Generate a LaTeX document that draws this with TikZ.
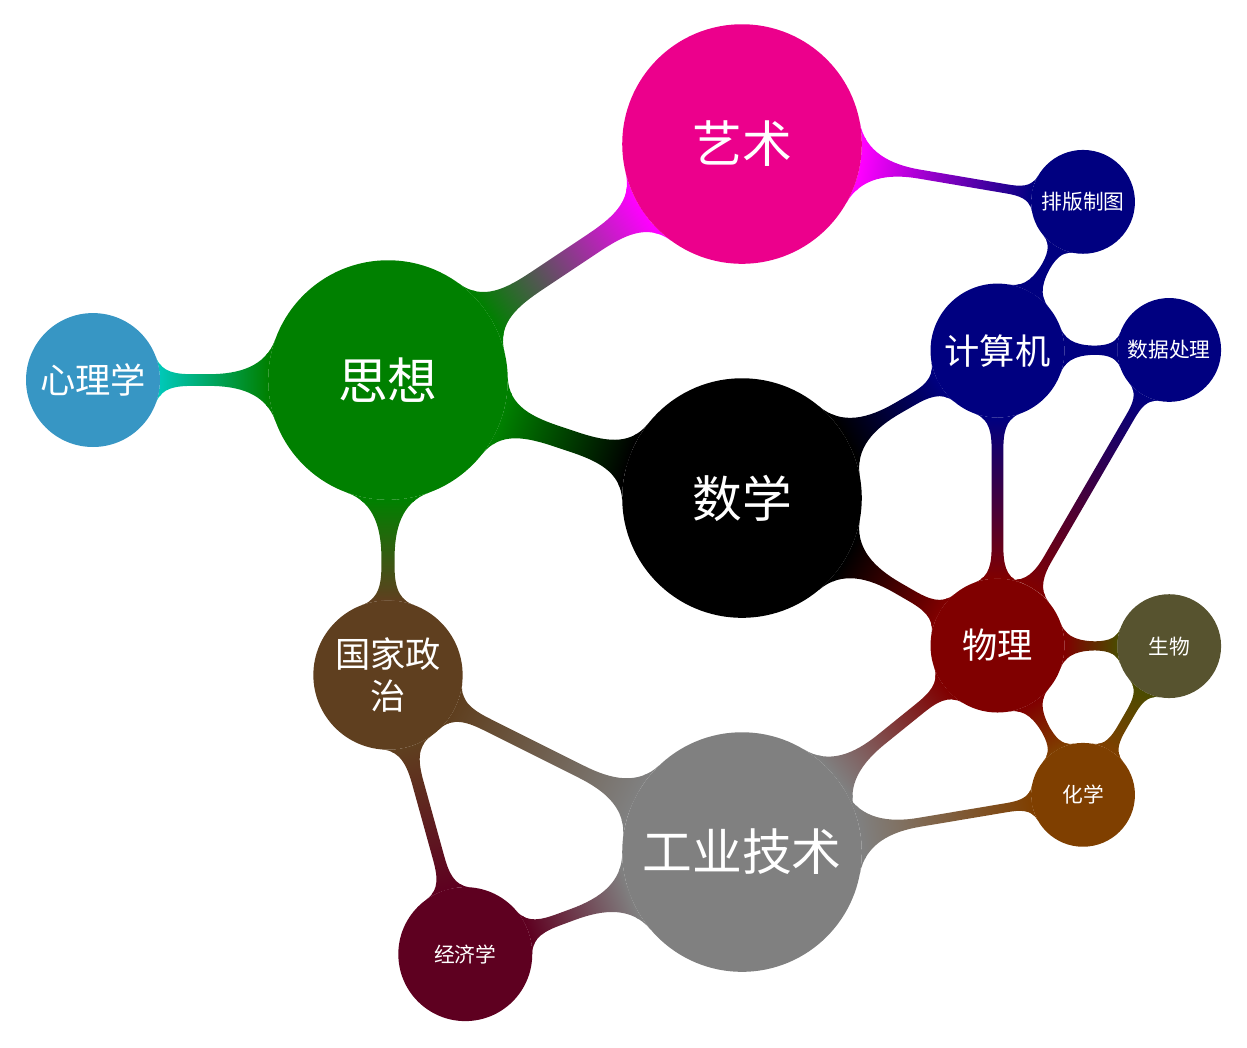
\documentclass[tikz,border=0pt]{standalone}
\usepackage{fontspec}
\newfontfamily\cjk{Noto Sans CJK SC}
\usetikzlibrary{mindmap,backgrounds}

\definecolor{ideacol}{HTML}{008000}
\definecolor{artfill}{HTML}{EC008C}
\definecolor{artbar}{HTML}{FF00FF}
\definecolor{psyfill}{HTML}{3796C4}
\definecolor{psybar}{HTML}{00C8B8}
\definecolor{polcol}{HTML}{5F3F1F}
\definecolor{ecocol}{HTML}{5E0020}
\definecolor{indcol}{HTML}{808080}
\definecolor{compcol}{HTML}{000080}
\definecolor{physcol}{HTML}{800000}
\definecolor{chemcol}{HTML}{7F3F00}
\definecolor{biofill}{HTML}{57532F}
\definecolor{biobar}{HTML}{4B4B00}

\begin{document}
\begin{tikzpicture}[mindmap, text=white,
    big/.style={concept, draw=none, minimum size=4.06cm, text width=3.8cm, align=center, inner sep=0pt, font=\cjk\fontsize{24}{28}\selectfont},
    mid/.style={concept, draw=none, minimum size=2.27cm, text width=2cm, align=center, inner sep=0pt, font=\cjk\fontsize{17}{20}\selectfont},
    small/.style={concept, draw=none, minimum size=1.76cm, text width=1.6cm, align=center, inner sep=0pt, font=\cjk\fontsize{10}{12}\selectfont}]
    \useasboundingbox (-12.576,-9.305) rectangle (8.559,8.441);

    % Main concepts
    \node[big, fill=black] (math) at (0,0) {数学};
    \node[big, fill=ideacol] (idea) at (-6,2) {思想};
    \node[big, fill=artfill] (art) at (0,6) {艺术};
    \node[big, fill=indcol] (industry) at (0,-6) {工业技术};

    % Second level
    \node[mid, fill=psyfill] (psy) at (-11,2) {心理学};
    \node[mid, fill=polcol, minimum size=2.53cm] (politics) at (-6,-3) {国家政\\治};
    \node[mid, fill=compcol] (computer) at (30:5) {计算机};
    \node[mid, fill=physcol] (physics) at (-30:5) {物理};
    \node[mid, fill=ecocol, font=\cjk\fontsize{10}{12}\selectfont] (eco) at (-4.69,-7.73) {经济学};

    % Small ones
    \node[small, fill=compcol] (typeset) at (5.78,5.02) {排版制图};
    \node[small, fill=compcol] (data) at (7.24,2.51) {数据处理};
    \node[small, fill=biofill] (bio) at (7.24,-2.51) {生物};
    \node[small, fill=chemcol] (chem) at (5.78,-5.03) {化学};

    % Connections
    \begin{pgfonlayer}{background}
        \path (idea) to[circle connection bar switch color=from (ideacol) to (artbar)] (art);
        \path (idea) to[circle connection bar switch color=from (ideacol) to (psybar)] (psy);
        \path (idea) to[circle connection bar switch color=from (ideacol) to (black)] (math);
        \path (idea) to[circle connection bar switch color=from (ideacol) to (polcol)] (politics);
        \path (art) to[circle connection bar switch color=from (artbar) to (compcol)] (typeset);
        \path (math) to[circle connection bar switch color=from (black) to (compcol)] (computer);
        \path (math) to[circle connection bar switch color=from (black) to (physcol)] (physics);
        \path (computer) to[circle connection bar switch color=from (compcol) to (compcol)] (typeset);
        \path (computer) to[circle connection bar switch color=from (compcol) to (compcol)] (data);
        \path (computer) to[circle connection bar switch color=from (compcol) to (physcol)] (physics);
        \path (data) to[circle connection bar switch color=from (compcol) to (physcol)] (physics);
        \path (physics) to[circle connection bar switch color=from (physcol) to (biobar)] (bio);
        \path (physics) to[circle connection bar switch color=from (physcol) to (chemcol)] (chem);
        \path (bio) to[circle connection bar switch color=from (biobar) to (chemcol)] (chem);
        \path (physics) to[circle connection bar switch color=from (physcol) to (indcol)] (industry);
        \path (chem) to[circle connection bar switch color=from (chemcol) to (indcol)] (industry);
        \path (politics) to[circle connection bar switch color=from (polcol) to (indcol)] (industry);
        \path (politics) to[circle connection bar switch color=from (polcol) to (ecocol)] (eco);
        \path (eco) to[circle connection bar switch color=from (ecocol) to (indcol)] (industry);
    \end{pgfonlayer}
\end{tikzpicture}
\end{document}
